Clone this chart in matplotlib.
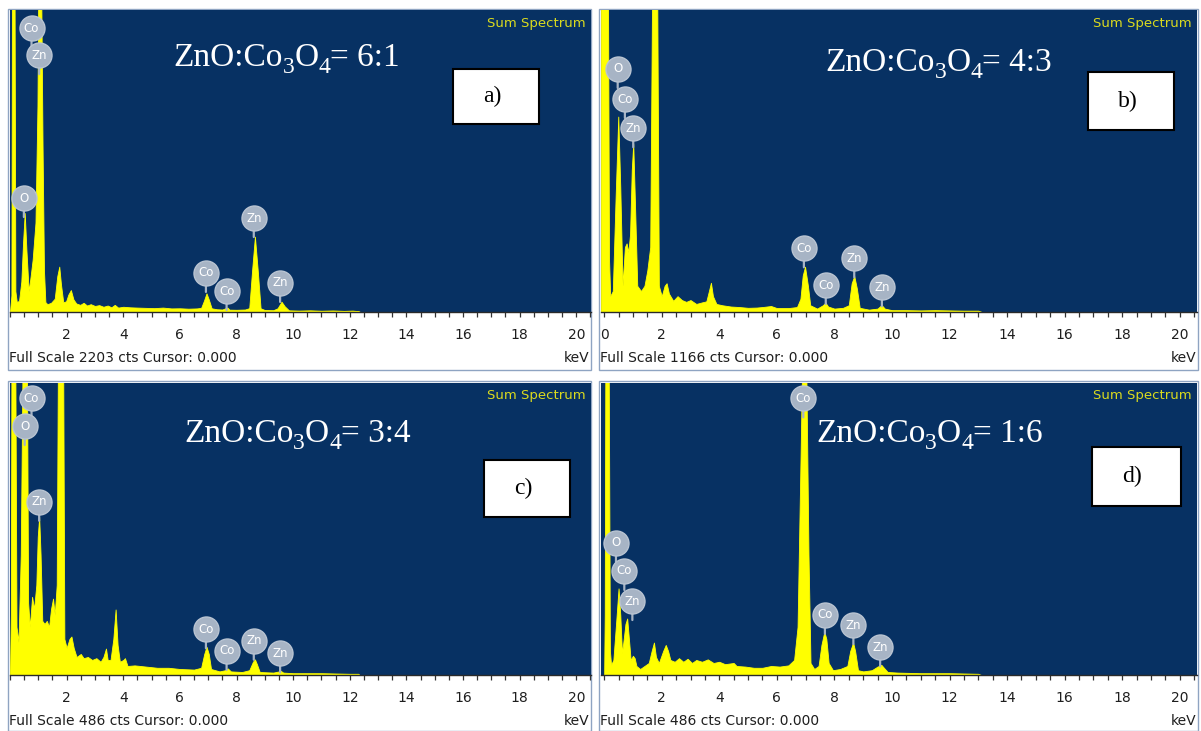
import matplotlib
matplotlib.use("Agg")
import matplotlib.pyplot as plt
from matplotlib.patches import Rectangle
from matplotlib.ticker import MultipleLocator, FixedLocator

W, H = 1201, 731
BLUE = "#073163"
YELLOW = "#ffff00"
LABEL_GREY = "#a7b4c5"
BORDER = "#8fa4c2"
UI_FONT = "DejaVu Sans"
SERIF = "Liberation Serif"

# EDS spectra: (energy keV, counts)
spectrum_a = [
    (0.00, 0), (0.05, 120), (0.07, 2400), (0.16, 2400), (0.19, 150), (0.24, 70),
    (0.32, 80), (0.40, 220), (0.46, 500), (0.52, 721), (0.58, 450), (0.66, 150),
    (0.73, 260), (0.80, 380), (0.90, 650), (0.97, 1500), (1.00, 2400), (1.10, 2400),
    (1.15, 1200), (1.20, 300), (1.25, 70), (1.32, 55), (1.45, 65), (1.58, 95),
    (1.67, 260), (1.74, 329), (1.80, 200), (1.88, 70), (1.98, 75), (2.06, 125),
    (2.15, 158), (2.24, 90), (2.34, 60), (2.48, 50), (2.60, 65), (2.72, 45),
    (2.85, 55), (3.00, 42), (3.15, 48), (3.30, 36), (3.45, 45), (3.58, 32),
    (3.70, 50), (3.82, 30), (4.00, 36), (4.25, 32), (4.50, 30), (4.80, 28),
    (5.10, 26), (5.40, 30), (5.70, 24), (6.00, 25), (6.30, 22), (6.60, 24),
    (6.75, 28), (6.85, 80), (6.94, 134), (7.02, 90), (7.12, 25), (7.30, 18),
    (7.50, 16), (7.62, 26), (7.68, 30), (7.75, 15), (8.00, 14), (8.30, 16),
    (8.45, 26), (8.55, 300), (8.65, 548), (8.75, 300), (8.85, 25), (9.00, 12),
    (9.30, 11), (9.45, 25), (9.59, 73), (9.70, 40), (9.85, 10), (10.2, 8),
    (10.6, 10), (11.0, 7), (11.4, 9), (11.8, 6), (12.1, 8), (12.3, 4), (12.35, 0),
]
spectrum_b = [
    (-0.11, 1300), (0.13, 1300), (0.17, 200), (0.21, 60), (0.30, 80), (0.40, 450),
    (0.49, 754), (0.56, 480), (0.64, 100), (0.72, 250), (0.78, 264), (0.84, 230),
    (0.90, 300), (0.96, 550), (1.01, 650), (1.07, 420), (1.15, 100), (1.28, 80),
    (1.40, 100), (1.50, 160), (1.60, 250), (1.67, 1300), (1.84, 1300), (1.90, 100),
    (2.00, 60), (2.10, 100), (2.17, 110), (2.25, 70), (2.40, 42), (2.55, 60),
    (2.70, 45), (2.85, 38), (3.00, 45), (3.20, 30), (3.40, 36), (3.55, 40),
    (3.64, 80), (3.71, 112), (3.78, 60), (3.90, 30), (4.10, 25), (4.40, 20),
    (4.70, 18), (5.00, 15), (5.30, 16), (5.50, 18), (5.80, 22), (6.00, 14),
    (6.40, 14), (6.70, 18), (6.82, 50), (6.90, 140), (6.98, 174), (7.08, 100),
    (7.16, 25), (7.40, 12), (7.60, 25), (7.69, 35), (7.78, 20), (8.00, 12),
    (8.30, 15), (8.50, 25), (8.60, 110), (8.69, 138), (8.78, 90), (8.88, 15),
    (9.20, 8), (9.50, 12), (9.64, 26), (9.75, 12), (10.0, 6), (10.5, 6),
    (11.0, 5), (11.5, 6), (12.0, 5), (12.5, 4), (13.0, 4), (13.1, 0),
]
spectrum_c = [
    (0.00, 0), (0.03, 100), (0.05, 500), (0.19, 500), (0.23, 80), (0.30, 55),
    (0.38, 200), (0.44, 500), (0.60, 500), (0.64, 120), (0.70, 80), (0.78, 130),
    (0.85, 110), (0.93, 150), (0.98, 230), (1.03, 263), (1.08, 200), (1.14, 90),
    (1.22, 85), (1.30, 90), (1.38, 80), (1.45, 110), (1.52, 127), (1.58, 100),
    (1.65, 150), (1.69, 500), (1.88, 500), (1.92, 60), (2.00, 45), (2.10, 60),
    (2.17, 64), (2.25, 45), (2.35, 30), (2.50, 35), (2.60, 28), (2.75, 30),
    (2.90, 25), (3.05, 28), (3.20, 22), (3.30, 30), (3.39, 44), (3.45, 25),
    (3.55, 25), (3.65, 60), (3.73, 109), (3.80, 50), (3.88, 22), (4.00, 25),
    (4.06, 28), (4.15, 15), (4.40, 16), (4.80, 14), (5.20, 12), (5.60, 12),
    (6.00, 10), (6.50, 9), (6.75, 12), (6.86, 35), (6.94, 47), (7.02, 35),
    (7.10, 10), (7.40, 6), (7.60, 8), (7.69, 11), (7.80, 6), (8.20, 5),
    (8.45, 8), (8.58, 22), (8.65, 26), (8.72, 18), (8.82, 5), (9.30, 4),
    (9.50, 6), (9.56, 7), (9.65, 4), (10.0, 3), (11.0, 3), (12.0, 2),
    (12.3, 2), (12.35, 0),
]
spectrum_d = [
    (0.00, 0), (0.02, 100), (0.04, 500), (0.16, 500), (0.20, 40), (0.24, 17),
    (0.32, 25), (0.42, 90), (0.50, 144), (0.56, 100), (0.62, 36), (0.68, 60),
    (0.74, 85), (0.80, 94), (0.86, 60), (0.92, 25), (1.00, 32), (1.06, 28),
    (1.12, 15), (1.25, 10), (1.40, 15), (1.55, 20), (1.65, 40), (1.73, 54),
    (1.80, 30), (1.90, 20), (2.05, 40), (2.14, 50), (2.22, 40), (2.30, 25),
    (2.45, 22), (2.60, 28), (2.75, 22), (2.90, 27), (3.05, 20), (3.20, 25),
    (3.40, 22), (3.60, 26), (3.80, 20), (4.00, 22), (4.20, 18), (4.50, 20),
    (4.60, 15), (4.90, 14), (5.20, 12), (5.50, 12), (5.80, 15), (6.10, 14),
    (6.40, 16), (6.60, 25), (6.72, 80), (6.82, 350), (6.88, 520), (7.02, 520),
    (7.10, 200), (7.17, 20), (7.30, 10), (7.45, 15), (7.55, 50), (7.65, 72),
    (7.72, 60), (7.80, 20), (7.95, 8), (8.20, 10), (8.45, 15), (8.55, 40),
    (8.65, 54), (8.72, 40), (8.82, 8), (9.00, 6), (9.30, 8), (9.50, 14),
    (9.63, 17), (9.72, 12), (9.85, 5), (10.2, 4), (11.0, 3), (12.0, 3),
    (13.0, 2), (13.1, 0),
]

full_scale = [2203, 1166, 486, 486]
ratios = ["6:1", "4:3", "3:4", "1:6"]
panel_tags = ["a)", "b)", "c)", "d)"]

# element markers: (element, keV, counts at marker centre)
peaks_a = [("Co", 0.76, 2069), ("Zn", 1.03, 1874), ("O", 0.49, 830),
           ("Co", 6.92, 283), ("Co", 7.65, 151), ("Zn", 8.61, 684), ("Zn", 9.54, 210)]
peaks_b = [("O", 0.47, 938), ("Co", 0.72, 822), ("Zn", 1.01, 709),
           ("Co", 6.94, 245), ("Co", 7.70, 103), ("Zn", 8.69, 206), ("Zn", 9.65, 94)]
peaks_c = [("Co", 0.76, 460), ("O", 0.52, 414), ("Zn", 1.03, 288),
           ("Co", 6.92, 76), ("Co", 7.65, 40), ("Zn", 8.61, 57), ("Zn", 9.54, 36)]
peaks_d = [("O", 0.41, 220), ("Co", 0.70, 173), ("Zn", 0.98, 123),
           ("Co", 6.92, 460), ("Co", 7.67, 100), ("Zn", 8.66, 83), ("Zn", 9.59, 46)]

xlims = [(0, 20.52), (-0.11, 20.6), (0, 20.52), (-0.11, 20.6)]
first_label = [2, 0, 2, 2]

# pixel layout: window (x0, y0, x1, y1), plot area, title pos, tag box
windows = [(8, 9, 591, 370), (599, 9, 1198, 370), (8, 381, 591, 731), (599, 381, 1198, 731)]
plots = [(10, 10, 591, 311.7), (601, 10, 1197, 311.7), (10, 382.7, 591, 675), (601, 382.7, 1197, 675)]
title_pos = [(173, 66), (825, 71), (184, 442), (816, 442)]
tag_boxes = [(453, 69, 539, 124), (1088, 72, 1174, 130), (484, 460, 570, 517), (1092, 447, 1181, 506)]


def frac(x, y):
    return x / W, 1 - y / H


def draw_title(fig, x, y, ratio):
    # chemical formula with dropped subscripts, laid out piece by piece
    renderer = fig.canvas.get_renderer()
    pieces = [("ZnO:Co", 24, 0), ("3", 17, 7), ("O", 24, 0), ("4", 17, 7),
              (f"= {ratio}", 24, 0)]
    cx = x
    for s, size, drop in pieces:
        t = fig.text(*frac(cx, y + drop), s, fontsize=size, family=SERIF,
                     color="white", ha="left", va="baseline")
        cx += t.get_window_extent(renderer).width


def draw_panel(fig, i, spectrum, peaks):
    wx0, wy0, wx1, wy1 = windows[i]
    fig.patches.append(Rectangle(frac(wx0, wy1), (wx1 - wx0) / W, (wy1 - wy0) / H,
                                 transform=fig.transFigure, facecolor="white",
                                 edgecolor=BORDER, linewidth=1, zorder=-5))
    px0, py0, px1, py1 = plots[i]
    l, b = frac(px0, py1)
    ax = fig.add_axes([l, b, (px1 - px0) / W, (py1 - py0) / H])
    ax.set_facecolor(BLUE)

    energy = [p[0] for p in spectrum]
    counts = [p[1] for p in spectrum]
    ax.fill_between(energy, counts, 0, color=YELLOW, linewidth=0.6, edgecolor=YELLOW)
    ax.set_xlim(*xlims[i])
    ax.set_ylim(0, full_scale[i])

    for sp in ("top", "left", "right"):
        ax.spines[sp].set_visible(False)
    ax.spines["bottom"].set_color("#2a2a2a")
    ax.spines["bottom"].set_linewidth(1.0)
    ax.set_yticks([])
    ax.xaxis.set_major_locator(FixedLocator(range(first_label[i], 21, 2)))
    ax.xaxis.set_minor_locator(MultipleLocator(0.5))
    ax.tick_params(axis="x", which="both", direction="out", color="#333333",
                   length=3.4, width=0.9, pad=8, labelsize=10,
                   labelcolor="#1e1e1e")
    for lbl in ax.get_xticklabels():
        lbl.set_family(UI_FONT)

    # element markers with stems
    for elem, kev, cts in peaks:
        ax.annotate("", xy=(kev, cts), xycoords="data", xytext=(0, -19),
                    textcoords="offset pixels",
                    arrowprops=dict(arrowstyle="-", color=LABEL_GREY, lw=1.6,
                                    shrinkA=0, shrinkB=0), zorder=4)
        ax.plot(kev, cts, "o", ms=18, mfc=LABEL_GREY, mec="#b9c4d2", mew=1.0,
                zorder=5, clip_on=False)
        ax.text(kev, cts, elem, ha="center", va="center", color="white",
                fontsize=8.5, family=UI_FONT, zorder=6)

    # captions
    fig.text(*frac(px1 - 5, py0 + 13), "Sum Spectrum", color="#dada1e",
             fontsize=9.5, family=UI_FONT, ha="right", va="center")
    fig.text(*frac(wx0 + 1, py1 + 46), f"Full Scale {full_scale[i]} cts Cursor: 0.000",
             color="#1e1e1e", fontsize=10, family=UI_FONT,
             ha="left", va="center")
    fig.text(*frac(wx1 - 2, py1 + 46), "keV", color="#1e1e1e", fontsize=10,
             family=UI_FONT, ha="right", va="center")

    tx, ty = title_pos[i]
    draw_title(fig, tx, ty, ratios[i])

    bx0, by0, bx1, by1 = tag_boxes[i]
    fig.patches.append(Rectangle(frac(bx0, by1), (bx1 - bx0) / W, (by1 - by0) / H,
                                 transform=fig.transFigure, facecolor="white",
                                 edgecolor="black", linewidth=1.5, zorder=10))
    fig.text(*frac(bx0 + 30, (by0 + by1) / 2), panel_tags[i], color="black",
             fontsize=17, family=SERIF, ha="left", va="center",
             zorder=11)
    return ax


fig = plt.figure(figsize=(W / 100, H / 100), dpi=100)
fig.patch.set_facecolor("white")
for i, (spec, pk) in enumerate(zip([spectrum_a, spectrum_b, spectrum_c, spectrum_d],
                                   [peaks_a, peaks_b, peaks_c, peaks_d])):
    draw_panel(fig, i, spec, pk)

fig.savefig("out.png", dpi=100)
